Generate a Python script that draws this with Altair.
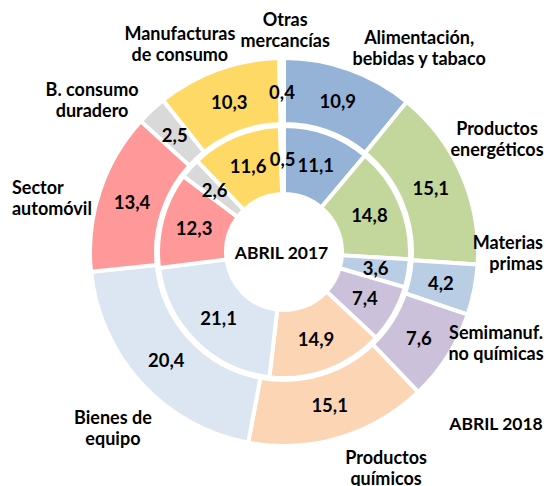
import math
import altair as alt
import pandas as pd

# ---- data ----
categories = [
    "Alimentación, bebidas y tabaco", "Productos energéticos", "Materias primas",
    "Semimanuf. no químicas", "Productos químicos", "Bienes de equipo",
    "Sector automóvil", "B. consumo duradero", "Manufacturas de consumo",
    "Otras mercancías",
]
abril_2017 = [11.1, 14.8, 3.6, 7.4, 14.9, 21.1, 12.3, 2.6, 11.6, 0.5]
abril_2018 = [10.9, 15.1, 4.2, 7.6, 15.1, 20.4, 13.4, 2.5, 10.3, 0.4]
colors = ["#95B3D7", "#C3D69B", "#B9CDE5", "#CCC1DA", "#FCD5B5",
          "#DCE6F2", "#FF9999", "#D9D9D9", "#FFD966", "#FFFFFF"]

# category label text (lines) and layout (angle in degrees clockwise from top, radius px, align)
label_lines = [
    ["Alimentación,", "bebidas y tabaco"], ["Productos", "energéticos"],
    ["Materias", "primas"], ["Semimanuf.", "no químicas"], ["Productos", "químicos"],
    ["Bienes de", "equipo"], ["Sector", "automóvil"], ["B. consumo", "duradero"],
    ["Manufacturas", "de consumo"], ["Otras", "mercancías"],
    ["ABRIL 2018"], ["ABRIL 2017"],
]
label_angle = [33.4, 61.85, 90.1, 113.2, 154.7, 224.2, 281.4, 308.4, 333.5, 0.3, 128.9, 270.0]
label_radius = [245.5, 241.6, 259.0, 230.7, 238.9, 245.4, 277.5, 244.9, 233.4, 223.0, 272.4, 2.5]
label_align = ["center", "center", "right", "center", "center", "center", "left",
               "center", "center", "center", "center", "center"]

FONT = "Lato"
LINE_H = 21


def fmt(v):
    return f"{v:.1f}".replace(".", ",")


def ring_df(values):
    return pd.DataFrame({
        "cat": categories,
        "idx": list(range(len(categories))),
        "value": values,
        "label": [fmt(v) for v in values],
    })


df17 = ring_df(abril_2017)
df18 = ring_df(abril_2018)

labels_df = pd.DataFrame({
    "text": ["\n".join(l) for l in label_lines],
    "nlines": [len(l) for l in label_lines],
    "rad": [math.radians(a) for a in label_angle],
    "r": label_radius,
    "align": label_align,
})

color_scale = alt.Scale(domain=categories, range=colors)


def ring(df, inner, outer, label_r):
    base = alt.Chart(df)
    arc = base.mark_arc(innerRadius=inner, outerRadius=outer, stroke="white",
                        strokeWidth=4).encode(
        theta=alt.Theta("value:Q", stack=True),
        color=alt.Color("cat:N", scale=color_scale, legend=None),
        order=alt.Order("idx:Q"),
    )
    txt = base.mark_text(radius=label_r, font=FONT, fontWeight="bold", fontSize=18.5,
                         color="black", dy=1).encode(
        theta=alt.Theta("value:Q", stack=True),
        detail="cat:N",
        order=alt.Order("idx:Q"),
        text="label:N",
    )
    return arc, txt


arc17, txt17 = ring(df17, 58, 126, 93)
arc18, txt18 = ring(df18, 128, 194, 160)

label_layers = []
for al in ["center", "left", "right"]:
    for n in [1, 2]:
        label_layers.append(
            alt.Chart(labels_df).transform_filter(
                (alt.datum.align == al) & (alt.datum.nlines == n)
            ).mark_text(
                font=FONT, fontWeight="bold", fontSize=18 if n == 2 else 17.5,
                color="black", align=al, baseline="middle", lineBreak="\n",
                lineHeight=LINE_H, dy=-(n - 1) * LINE_H / 2 + 2,
            ).encode(
                theta=alt.Theta("rad:Q", scale=None, stack=None),
                radius=alt.Radius("r:Q", scale=None),
                text="text:N",
            )
        )

chart = alt.layer(arc17, arc18, txt17, txt18, *label_layers).properties(
    width=500, height=452,
    padding={"left": 26, "right": 10, "top": 18, "bottom": 8},
    autosize=alt.AutoSizeParams(type="none"),
).configure_view(stroke=None)

chart.save("out.html", embed_options={"renderer": "svg", "actions": False})
